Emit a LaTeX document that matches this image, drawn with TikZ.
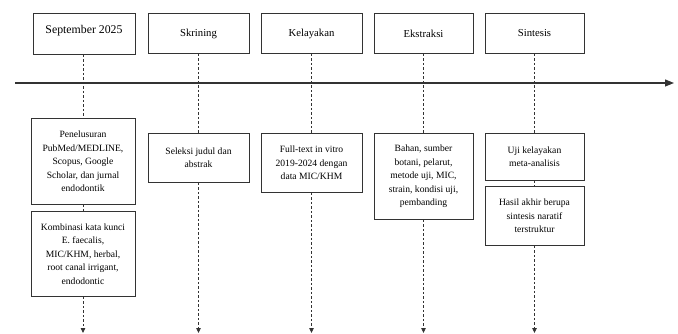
\documentclass[tikz,border=0pt]{standalone}
\usepackage{fontspec}
\setmainfont{Liberation Serif}
\usetikzlibrary{arrows.meta}
\definecolor{boxline}{HTML}{333333}
\tikzset{
  topbox/.style={draw=boxline, line width=0.9pt, anchor=north, minimum height=40pt, inner sep=2pt, font=\fontsize{10.7}{13}\selectfont},
  botbox/.style={draw=boxline, line width=0.9pt, anchor=north, align=center, inner sep=2pt, font=\fontsize{9.6}{13.5}\selectfont},
  guide/.style={draw=boxline, line width=0.8pt, dash pattern=on 2.5pt off 2pt},
  guidearrow/.style={guide, -{Triangle[length=5pt,width=4.5pt]}},
  timeline/.style={draw=boxline, line width=1.1pt, -{Triangle[length=9pt,width=7pt]}}
}
\begin{document}
\begin{tikzpicture}[x=1pt,y=-1pt]
\useasboundingbox (0,0) rectangle (678,334);
% top boxes
\node[topbox, minimum width=102pt, minimum height=41pt, font=\fontsize{11.8}{14}\selectfont] (t1) at (84,13) {\raisebox{0.5pt}[0pt][0pt]{September 2025}};
\node[topbox, minimum width=101pt] (t2) at (198.5,13) {Skrining};
\node[topbox, minimum width=101pt] (t3) at (311.5,13) {Kelayakan};
\node[topbox, minimum width=99pt] (t4) at (423.5,13) {Ekstraksi};
\node[topbox, minimum width=99pt] (t5) at (534.5,13) {Sintesis};
% timeline
\coordinate (tlA) at (15,83);
\coordinate (tlB) at (674,83);
\draw[timeline] (tlA) -- (tlB);
% bottom boxes
\node[botbox, minimum width=104pt, minimum height=86pt] (b1a) at (83,118) {Penelusuran\\PubMed/MEDLINE,\\Scopus, Google\\Scholar, dan jurnal\\endodontik};
\node[botbox, minimum width=104pt, minimum height=85pt] (b1b) at (83,211) {Kombinasi kata kunci\\E. faecalis,\\MIC/KHM, herbal,\\root canal irrigant,\\endodontic};
\node[botbox, minimum width=101pt, minimum height=49pt] (b2a) at (198.5,133) {Seleksi judul dan\\abstrak};
\node[botbox, minimum width=101pt, minimum height=59pt] (b3a) at (311.5,133) {Full-text in vitro\\2019-2024 dengan\\data MIC/KHM};
\node[botbox, minimum width=99pt, minimum height=86pt] (b4a) at (423.5,133) {Bahan, sumber\\botani, pelarut,\\metode uji, MIC,\\strain, kondisi uji,\\pembanding};
\node[botbox, minimum width=99pt, minimum height=47pt] (b5a) at (534.5,133) {Uji kelayakan\\meta-analisis};
\node[botbox, minimum width=99pt, minimum height=59pt] (b5b) at (534.5,186) {Hasil akhir berupa\\sintesis naratif\\terstruktur};
% end coordinates
\coordinate (e1) at (83,333);
\coordinate (e2) at (198.5,333);
\coordinate (e3) at (311.5,333);
\coordinate (e4) at (423.5,333);
\coordinate (e5) at (534.5,333);
% guides
\draw[guide] (t1.south -| b1a.north) -- (b1a.north);
\draw[guide] (b1a.south) -- (b1b.north);
\draw[guidearrow] (b1b.south) -- (e1);
\draw[guide] (t2.south) -- (b2a.north);
\draw[guidearrow] (b2a.south) -- (e2);
\draw[guide] (t3.south) -- (b3a.north);
\draw[guidearrow] (b3a.south) -- (e3);
\draw[guide] (t4.south) -- (b4a.north);
\draw[guidearrow] (b4a.south) -- (e4);
\draw[guide] (t5.south) -- (b5a.north);
\draw[guide] (b5a.south) -- (b5b.north);
\draw[guidearrow] (b5b.south) -- (e5);
\end{tikzpicture}
\end{document}
